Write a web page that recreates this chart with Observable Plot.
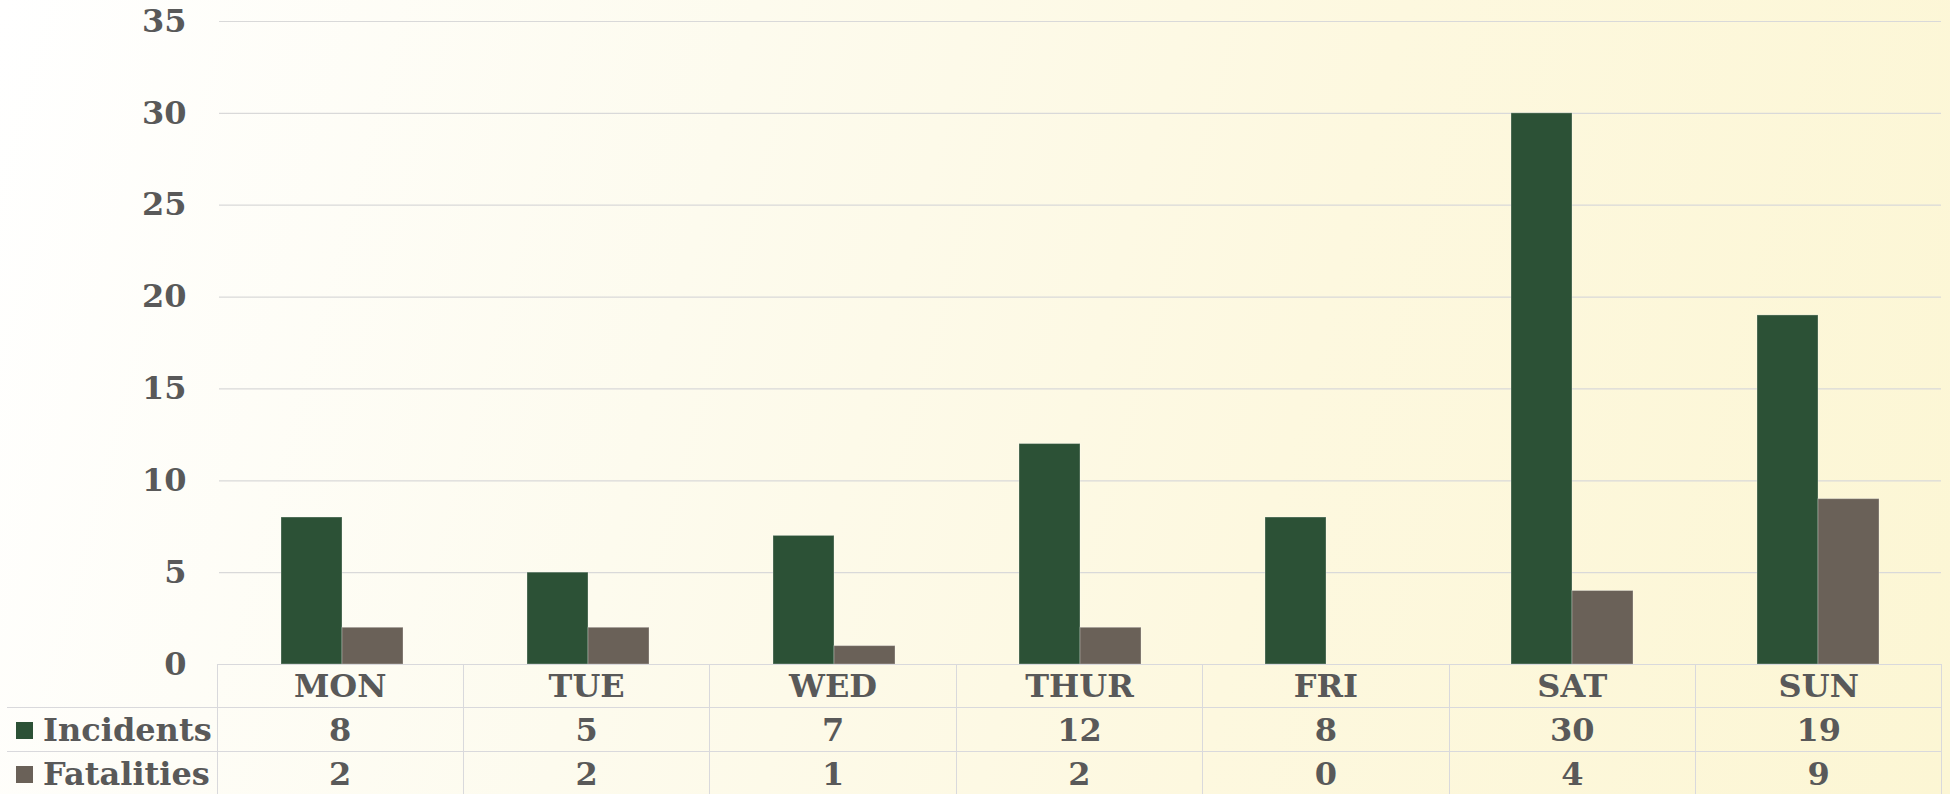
<!DOCTYPE html>
<html>
<head>
<meta charset="utf-8">
<script src="https://cdn.jsdelivr.net/npm/d3@7"></script>
<script src="https://cdn.jsdelivr.net/npm/@observablehq/plot@0.6"></script>
<style>
  html, body { margin: 0; padding: 0; }
  #wrap {
    position: relative;
    width: 1950px;
    height: 794px;
    overflow: hidden;
    background: linear-gradient(105deg, #ffffff 0%, #fdfbee 35%, #fdf8df 65%, #fcf6d4 100%);
    font-family: "DejaVu Serif", Georgia, serif;
    font-weight: bold;
    color: #595959;
  }
  #chart { position: absolute; left: 0; top: 0; }
  #tbl {
    position: absolute;
    left: 7px;
    top: 664px;
    border-collapse: collapse;
    table-layout: fixed;
    width: 1935px;
    font-size: 32px;
    color: #595959;
  }
  #tbl td {
    border: 1px solid #d9d9dc;
    text-align: center;
    vertical-align: middle;
    padding: 0;
    white-space: nowrap;
    line-height: 1;
  }
  #tbl tr.hdr td { height: 42px; }
  #tbl tr.row td { height: 43px; }
  #tbl tr.row td { border-bottom: none; }
  #tbl td.corner { border-top: none; border-left: none; }
  #tbl td.lab { text-align: left; padding-left: 9px; border-left: none; }
  .sw { display: inline-block; width: 17px; height: 17px; margin-right: 10px; vertical-align: 2px; }
</style>
</head>
<body>
<div id="wrap">
  <div id="chart"></div>
  <table id="tbl"></table>
</div>
<script>
const days = ["MON", "TUE", "WED", "THUR", "FRI", "SAT", "SUN"];
const seriesNames = ["Incidents", "Fatalities"];
const incidents = [8, 5, 7, 12, 8, 30, 19];
const fatalities = [2, 2, 1, 2, 0, 4, 9];
const seriesColors = ["#2c5136", "#6a6158"];
const yTicks = [0, 5, 10, 15, 20, 25, 30, 35];

const seriesValues = [incidents, fatalities];
const rows = days.flatMap((d, i) =>
  seriesNames.map((s, j) => ({day: d, series: s, value: seriesValues[j][i]}))
);

const font = "DejaVu Serif, Georgia, serif";

const plot = Plot.plot({
  width: 1950,
  height: 794,
  marginTop: 21,
  marginBottom: 130,
  marginLeft: 217,
  marginRight: 8,
  style: {background: "transparent", fontFamily: font},
  fx: {domain: days, padding: 0, axis: null},
  x: {domain: seriesNames, paddingInner: 0, paddingOuter: 1, axis: null},
  y: {domain: [0, 35], axis: null},
  color: {domain: seriesNames, range: seriesColors},
  marks: [
    Plot.gridY(yTicks, {stroke: "#d9d9d9", strokeOpacity: 1, strokeWidth: 1.2}),
    Plot.axisY(yTicks, {
      label: null,
      tickSize: 0,
      tickPadding: 33,
      fontSize: 32,
      fontWeight: "bold",
      fill: "#595959",
      fontFamily: font
    }),
    Plot.barY(rows, {
      fx: "day",
      x: "series",
      y: "value",
      fill: "series",
      inset: 0,
      stroke: "#ffffff",
      strokeOpacity: 0.3,
      strokeWidth: 1
    })
  ]
});
document.getElementById("chart").appendChild(plot);

// data table below the chart
const tbl = document.getElementById("tbl");
const cg = document.createElement("colgroup");
const c0 = document.createElement("col");
c0.style.width = "210px";
cg.appendChild(c0);
days.forEach(() => {
  const c = document.createElement("col");
  c.style.width = (1725 / days.length) + "px";
  cg.appendChild(c);
});
tbl.appendChild(cg);

const hdr = document.createElement("tr");
hdr.className = "hdr";
const corner = document.createElement("td");
corner.className = "corner";
hdr.appendChild(corner);
days.forEach(d => {
  const td = document.createElement("td");
  td.textContent = d;
  hdr.appendChild(td);
});
tbl.appendChild(hdr);

seriesNames.forEach((s, j) => {
  const tr = document.createElement("tr");
  tr.className = "row";
  const lab = document.createElement("td");
  lab.className = "lab";
  const sw = document.createElement("span");
  sw.className = "sw";
  sw.style.background = seriesColors[j];
  lab.appendChild(sw);
  lab.appendChild(document.createTextNode(s));
  tr.appendChild(lab);
  seriesValues[j].forEach(v => {
    const td = document.createElement("td");
    td.textContent = String(v);
    tr.appendChild(td);
  });
  tbl.appendChild(tr);
});
</script>
</body>
</html>
